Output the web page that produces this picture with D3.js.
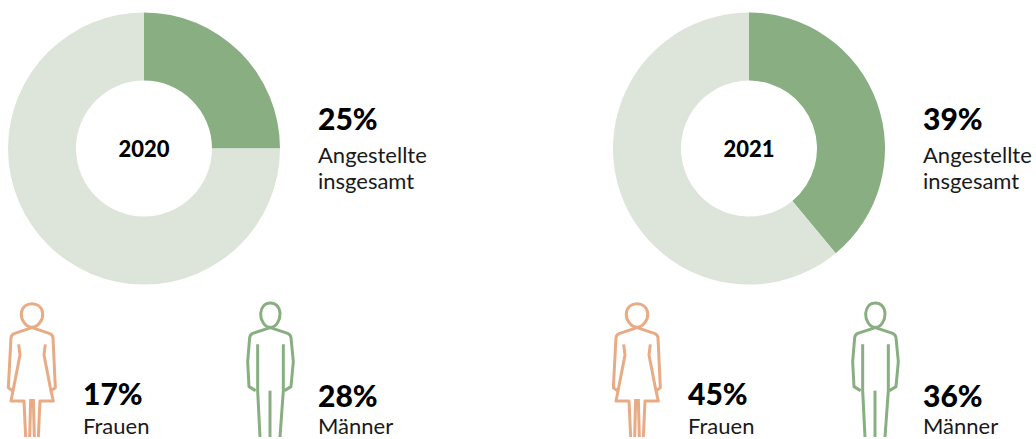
<!DOCTYPE html>
<html lang="de">
<head>
<meta charset="utf-8">
<script src="https://cdn.jsdelivr.net/npm/d3@7"></script>
<style>
  html, body { margin: 0; padding: 0; background: #fff; overflow: hidden; }
  text { font-family: Lato, "Noto Sans", sans-serif; fill: #1a1a1a; }
  .big { font-size: 30px; font-weight: 900; fill: #000; }
  .small { font-size: 22px; }
  .year { font-size: 22px; font-weight: 900; fill: #000; }
</style>
</head>
<body>
<div id="chart"></div>
<script>
// Daten
const years = ["2020", "2021"];
const gesamt = [25, 39];
const frauen = [17, 45];
const maenner = [28, 36];

const width = 1036, height = 439;
const dark = "#88ae82", light = "#dde5da", orange = "#e8ab84";

// Umrisse der Figuren (in 3x Koordinaten gezeichnet)
const womanPaths = [
  "M96,97 C78,97 62,74 64,55 C66,36 80,26 96,26 C112,26 126,36 128,55 C130,74 114,97 96,97 Z",
  "M96,98 L150,116 Q158,120 159,128 L166,278 L152,288",
  "M96,98 L42,116 Q34,120 33,128 L25,278 L39,288",
  "M56,148 L60,180 L39,288 L33,318 L72,318 L77,426",
  "M136,148 L132,180 L153,288 L160,318 L120,318 L115,426",
  "M92,312 L89,426",
  "M100,312 L103,426"
];
const manPaths = [
  "M106,97 C88,97 76,74 77,55 C79,36 90,24 106,24 C122,24 134,36 135,55 C136,74 124,97 106,97 Z",
  "M106,98 L158,115 Q167,119 168,128 L175,200 L168,275 L148,287",
  "M106,98 L53,115 Q45,119 44,128 L38,200 L42,275 L62,287",
  "M68,148 L68,287 L75,426",
  "M145,148 L145,287 L135,426",
  "M105,287 L105,426"
];

const svg = d3.select("#chart")
  .append("svg")
    .attr("width", width)
    .attr("height", height)
    .style("display", "block");

// Jahr -> Versatz der Spalte
const x = d3.scaleOrdinal().domain(years).range([0, 605]);

const pie = d3.pie().sort(null).startAngle(0).endAngle(2 * Math.PI);
const arc = d3.arc().innerRadius(68).outerRadius(136);

years.forEach((year, i) => {
  const g = svg.append("g").attr("transform", `translate(${x(year)},0)`);

  // Ring
  const ring = g.append("g").attr("transform", "translate(144,148.5)");
  ring.selectAll("path")
    .data(pie([gesamt[i], 100 - gesamt[i]]))
    .enter()
    .append("path")
      .attr("d", arc)
      .attr("fill", (d, j) => j === 0 ? dark : light);

  ring.append("text")
    .attr("class", "year")
    .attr("text-anchor", "middle")
    .attr("y", 8)
    .text(year);

  g.append("text").attr("class", "big").attr("x", 318).attr("y", 130).text(gesamt[i] + "%");
  g.append("text").attr("class", "small").attr("x", 318).attr("y", 163).text("Angestellte");
  g.append("text").attr("class", "small").attr("x", 318).attr("y", 189).text("insgesamt");

  // Figuren
  g.append("g")
    .attr("transform", "translate(0,295) scale(0.3333)")
    .selectAll("path")
    .data(womanPaths)
    .enter()
    .append("path")
      .attr("d", d => d)
      .attr("fill", "none")
      .attr("stroke", orange)
      .attr("stroke-width", 9)
      .attr("stroke-linejoin", "round");

  g.append("g")
    .attr("transform", "translate(235,295) scale(0.3333)")
    .selectAll("path")
    .data(manPaths)
    .enter()
    .append("path")
      .attr("d", d => d)
      .attr("fill", "none")
      .attr("stroke", dark)
      .attr("stroke-width", 9)
      .attr("stroke-linejoin", "round");

  g.append("text").attr("class", "big").attr("x", 83).attr("y", 405).text(frauen[i] + "%");
  g.append("text").attr("class", "small").attr("x", 83).attr("y", 434).text("Frauen");
  g.append("text").attr("class", "big").attr("x", 318).attr("y", 407).text(maenner[i] + "%");
  g.append("text").attr("class", "small").attr("x", 318).attr("y", 434).text("Männer");
});
</script>
</body>
</html>
